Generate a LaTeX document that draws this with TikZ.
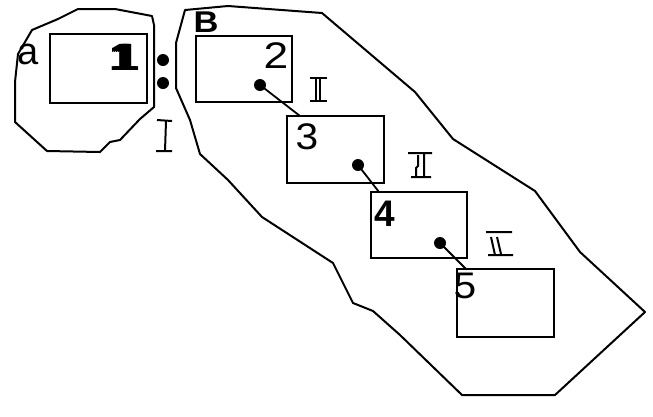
\documentclass[tikz,border=0pt]{standalone}
\usepackage{fontspec}
\setmainfont{Liberation Sans}
\tikzset{
  outline/.style={line width=2pt, line join=round},
  cell/.style={draw, line width=2pt, inner sep=0pt},
  knob/.style={circle, fill=black, inner sep=0pt, minimum size=12pt},
  link/.style={line width=1.8pt},
  stroke/.style={line width=2pt},
  digit/.style={inner sep=0pt, font=\fontsize{37}{40}\selectfont},
}
\newcommand{\heavyone}{\rlap{1}\kern1.7pt\rlap{1}\kern1.7pt\rlap{1}\kern1.7pt 1}
\begin{document}
\begin{tikzpicture}[x=1pt,y=-1pt]
\useasboundingbox (0,0) rectangle (653,416);
% region a
\draw[outline] (78,9) -- (115,9) -- (152,16) -- (154,25) -- (154,107) -- (140,119) -- (120,140)
  -- (110,142) -- (100,152) -- (47,151) -- (15,122) -- (15,82) -- (18,54) -- (32,30) -- (58,19) -- cycle;
% region B
\draw[outline] (185,10) -- (228,6) -- (322,13) -- (415,92) -- (453,139) -- (535,191) -- (580,252)
  -- (645,312) -- (555,395) -- (462,395) -- (400,335) -- (373,311) -- (353,303) -- (333,263)
  -- (262,217) -- (228,180) -- (200,154) -- (190,120) -- (176,88) -- (176,43) -- cycle;
% boxes
\node[cell, minimum width=97pt, minimum height=69pt] (b1) at (98.5,68.5) {};
\node[cell, minimum width=96pt, minimum height=66pt] (b2) at (244,69) {};
\node[cell, minimum width=97pt, minimum height=67pt] (b3) at (335.5,149.5) {};
\node[cell, minimum width=96pt, minimum height=66pt] (b4) at (419,225) {};
\node[cell, minimum width=97pt, minimum height=68pt] (b5) at (505.5,303) {};
% labels
\node[digit, font=\fontsize{38}{40}\selectfont\bfseries] (l1) at (125,57) {\scalebox{1.15}[1]{\heavyone}};
\node[digit, font=\fontsize{38}{40}\selectfont] (la) at (28,54) {a};
\node[digit, font=\fontsize{30}{32}\selectfont\bfseries] (lB) at (206,22) {\scalebox{1.15}[1]{B}};
\node[digit] (l2) at (276,56) {\scalebox{1.2}[1]{2}};
\node[digit] (l3) at (307,137) {\scalebox{1.1}[1]{3}};
\node[digit, font=\fontsize{37}{40}\selectfont\bfseries] (l4) at (385,214) {4};
\node[digit] (l5) at (465,286) {\scalebox{1.1}[1]{5}};
% dots
\node[knob] (d1) at (163,60) {};
\node[knob] (d2) at (163,83) {};
\node[knob] (d3) at (260,85) {};
\node[knob] (d4) at (358,165) {};
\node[knob] (d5) at (440,243) {};
% connectors
\coordinate (e3) at (300,116);
\coordinate (e4) at (379,192);
\coordinate (e5) at (466,269);
\draw[link] (d3.center) -- (e3);
\draw[link] (d4.center) -- (e4);
\draw[link] (d5.center) -- (e5);
% roman numerals
\draw[stroke] (157,120) -- (172,121) (166,121) -- (165,151) (156,151) -- (172,151);
\draw[stroke] (310,78) -- (327,78) (310,101) -- (327,101) (316,78) -- (316,101) (320,78) -- (320,101);
\draw[stroke] (408,153) -- (432,153) (411,177) -- (431,177) (424,153) -- (424,177)
  (418,155) -- (418,166) -- (416,168) -- (416,176);
\draw[stroke] (486,232) -- (512,232) (488,255) -- (513,255) (491,237) -- (495,255) (497,237) -- (501,254);
\end{tikzpicture}
\end{document}
